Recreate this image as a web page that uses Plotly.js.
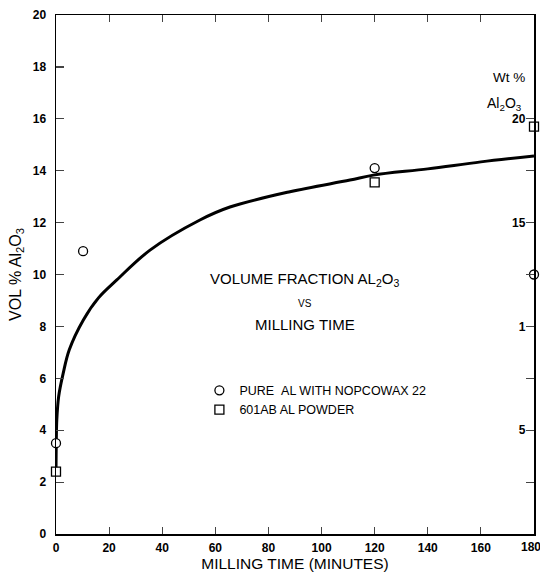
<!DOCTYPE html>
<html><head><meta charset="utf-8">
<script src="https://cdn.plot.ly/plotly-3.0.1.min.js"></script>
<style>body{margin:0;background:#fff}#c{width:540px;height:574px}</style>
</head><body><div id="c"></div>
<script>
// Fitted curve (vol % Al2O3 vs milling time, minutes)
const curveTime = [0, 0.1, 0.3, 1, 2.7, 5, 10.3, 16, 22.9, 35.4, 54.2, 65.5, 88.1, 110.7, 119.5, 140, 160, 180];
const curveVol  = [2.4, 3.5, 4.4, 5.3, 6.19, 7.1, 8.25, 9.1, 9.79, 10.94, 12.1, 12.6, 13.19, 13.64, 13.83, 14.07, 14.34, 14.57];
// Pure Al with Nopcowax 22 (circles)
const pureTime = [0, 10.2, 120, 180];
const pureVol  = [3.5, 10.9, 14.1, 10.0];
// 601AB Al powder (squares)
const powderTime = [0, 120, 180];
const powderVol  = [2.4, 13.55, 15.7];
// Axis ticks
const xTicks = [0, 20, 40, 60, 80, 100, 120, 140, 160];
const xTickText = ['0','20','40','60','80','100','120','140','160'];
const xLastTick = 180;
const xLastTickText = '180';
const yTicks = [0, 2, 4, 6, 8, 10, 12, 14, 16, 18, 20];
const yTickText = ['0','2','4','6','8','10','12','14','16','18','20'];
const wtTickVals = [2, 4, 6, 8, 10, 12, 14, 16];
const wtTickText = ['', '5', '', '1', '', '15', '', '20'];

const FONT = 'Liberation Sans, Arial, sans-serif';
const TICKFONT = {family: FONT, size: 12, weight: 'bold', color: '#000'};
const traces = [
  {x: curveTime, y: curveVol, mode: 'lines', line: {color: '#000', width: 3, shape: 'spline'}, showlegend: false, hoverinfo: 'skip', cliponaxis: false},
  {x: pureTime, y: pureVol, mode: 'markers', name: 'PURE &nbsp;AL WITH NOPCOWAX 22',
   marker: {symbol: 'circle', size: 9, color: '#fff', line: {color: '#000', width: 1.3}}, cliponaxis: false},
  {x: powderTime, y: powderVol, mode: 'markers', name: '601AB AL POWDER',
   marker: {symbol: 'square', size: 9, color: '#fff', line: {color: '#000', width: 1.3}}, cliponaxis: false},
  {x: [], y: [], yaxis: 'y2', showlegend: false}
];
const layout = {
  width: 540, height: 574,
  margin: {l: 56, r: 6, t: 15, b: 40},
  paper_bgcolor: '#fff', plot_bgcolor: '#fff',
  font: {family: FONT, color: '#000', size: 13},
  showlegend: true,
  legend: {x: 0.3, y: 0.305, xanchor: 'left', yanchor: 'top', bgcolor: 'rgba(0,0,0,0)',
           font: {size: 12.5, family: FONT}, tracegroupgap: 0, itemwidth: 30},
  xaxis: {range: [0, 180], tickvals: xTicks, ticktext: xTickText, ticks: 'inside', ticklen: 7,
          tickwidth: 1.2, showline: true, linewidth: 1.5, linecolor: '#000', mirror: 'ticks',
          showgrid: false, zeroline: false, ticklabelstandoff: 2,
          tickfont: TICKFONT,
          title: {text: 'MILLING TIME (MINUTES)', font: {size: 15.5}, standoff: 3}},
  yaxis: {range: [0, 20], tickvals: yTicks, ticktext: yTickText, ticks: 'inside', ticklen: 8,
          tickwidth: 1.2, showline: true, linewidth: 1.5, linecolor: '#000', mirror: false,
          showgrid: false, zeroline: false, ticklabelstandoff: 6, tickfont: TICKFONT,
          title: {text: 'VOL % Al<sub>2</sub>O<sub>3</sub>', font: {size: 16}, standoff: 7}},
  yaxis2: {range: [0, 20], overlaying: 'y', side: 'right', tickvals: wtTickVals, ticktext: wtTickText,
           ticks: 'inside', ticklen: 8, tickwidth: 1.2, ticklabelposition: 'inside', tickfont: TICKFONT,
           showline: true, linewidth: 1.5, linecolor: '#000', showgrid: false, zeroline: false},
  annotations: [
    {xref: 'x', yref: 'paper', x: xLastTick, y: 0, yanchor: 'top', xanchor: 'center', yshift: -4, xshift: -3,
     text: xLastTickText, showarrow: false, font: TICKFONT},
    {xref: 'paper', yref: 'paper', x: 0.52, y: 0.49, text: 'VOLUME FRACTION AL<sub>2</sub>O<sub>3</sub>', showarrow: false, font: {size: 15}},
    {xref: 'paper', yref: 'paper', x: 0.52, y: 0.445, text: 'VS', showarrow: false, font: {size: 10}},
    {xref: 'paper', yref: 'paper', x: 0.52, y: 0.403, text: 'MILLING TIME', showarrow: false, font: {size: 15}},
    {xref: 'paper', yref: 'paper', x: 0.985, y: 0.897, text: 'Wt %', showarrow: false, font: {size: 13.5}},
    {xref: 'paper', yref: 'paper', x: 0.98, y: 0.85, text: 'Al<sub>2</sub>O<sub>3</sub>', showarrow: false, font: {size: 14}}
  ]
};
Plotly.newPlot('c', traces, layout, {displayModeBar: false, staticPlot: true});
</script></body></html>
